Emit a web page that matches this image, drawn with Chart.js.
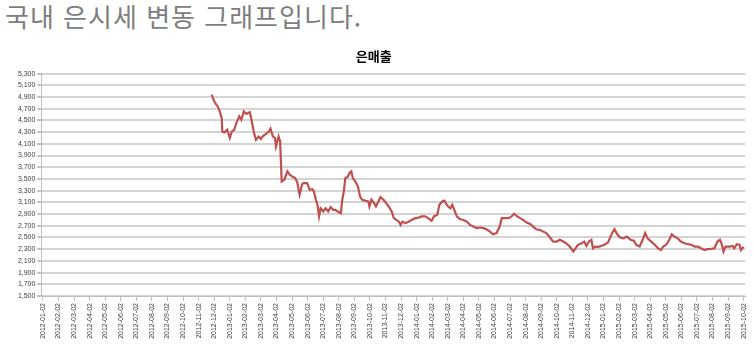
<!DOCTYPE html>
<html lang="ko">
<head>
<meta charset="utf-8">
<script src="https://cdn.jsdelivr.net/npm/chart.js@4.4.0/dist/chart.umd.min.js"></script>
<style>
html, body { margin: 0; padding: 0; background: #fff; width: 754px; height: 353px; overflow: hidden; }
h2 { position: absolute; left: 5px; top: 3px; margin: 0; font: 400 26px/1 "Noto Sans CJK KR", sans-serif; letter-spacing: 1px; color: #7d7d7d; white-space: nowrap; }
#wrap { position: absolute; left: 0; top: 38px; width: 754px; height: 315px; }
</style>
</head>
<body>
<h2>국내 은시세 변동 그래프입니다.</h2>
<div id="wrap"><canvas id="myChart" width="754" height="315"></canvas></div>
<script>
// 축 눈금 (매월 2일)
const tickLabels = [
    '2012-01-02', '2012-02-02', '2012-03-02', '2012-04-02', '2012-05-02', '2012-06-02',
    '2012-07-02', '2012-08-02', '2012-09-02', '2012-10-02', '2012-11-02', '2012-12-02',
    '2013-01-02', '2013-02-02', '2013-03-02', '2013-04-02', '2013-05-02', '2013-06-02',
    '2013-07-02', '2013-08-02', '2013-09-02', '2013-10-02', '2013-11-02', '2013-12-02',
    '2014-01-02', '2014-02-02', '2014-03-02', '2014-04-02', '2014-05-02', '2014-06-02',
    '2014-07-02', '2014-08-02', '2014-09-02', '2014-10-02', '2014-11-02', '2014-12-02',
    '2015-01-02', '2015-02-02', '2015-03-02', '2015-04-02', '2015-05-02', '2015-06-02',
    '2015-07-02', '2015-08-02', '2015-09-02', '2015-10-02'
];

// 날짜 / 은 가격
const dates = [
    '2012-11-27', '2012-12-02', '2012-12-06', '2012-12-09', '2012-12-13', '2012-12-17', '2012-12-18', '2012-12-22', '2012-12-28',
    '2013-01-02', '2013-01-06', '2013-01-11', '2013-01-15', '2013-01-21', '2013-01-25', '2013-01-30',
    '2013-02-04', '2013-02-10', '2013-02-13', '2013-02-17', '2013-02-21', '2013-02-26',
    '2013-03-02', '2013-03-05', '2013-03-12', '2013-03-18', '2013-03-21', '2013-03-26', '2013-03-30',
    '2013-04-01', '2013-04-06', '2013-04-09', '2013-04-12', '2013-04-17', '2013-04-23', '2013-04-28',
    '2013-05-03', '2013-05-08', '2013-05-12', '2013-05-17', '2013-05-22', '2013-05-25',
    '2013-06-01', '2013-06-06', '2013-06-11', '2013-06-14', '2013-06-18', '2013-06-21', '2013-06-24', '2013-06-27',
    '2013-07-02', '2013-07-07', '2013-07-12', '2013-07-17', '2013-07-22', '2013-07-26', '2013-07-31',
    '2013-08-06', '2013-08-09', '2013-08-12', '2013-08-15', '2013-08-20', '2013-08-24', '2013-08-27', '2013-08-30',
    '2013-09-04', '2013-09-09', '2013-09-13', '2013-09-17', '2013-09-24', '2013-09-29',
    '2013-10-01', '2013-10-05', '2013-10-10', '2013-10-14', '2013-10-19', '2013-10-23', '2013-10-29',
    '2013-11-03', '2013-11-08', '2013-11-14', '2013-11-18', '2013-11-23', '2013-11-28',
    '2013-12-01', '2013-12-05', '2013-12-11', '2013-12-17', '2013-12-23', '2013-12-30',
    '2014-01-06', '2014-01-12', '2014-01-19', '2014-01-25',
    '2014-02-01', '2014-02-05', '2014-02-11', '2014-02-15', '2014-02-20', '2014-02-24', '2014-02-28',
    '2014-03-03', '2014-03-07', '2014-03-11', '2014-03-15', '2014-03-20', '2014-03-26',
    '2014-04-02', '2014-04-09', '2014-04-15', '2014-04-22', '2014-04-28',
    '2014-05-04', '2014-05-11', '2014-05-17', '2014-05-24', '2014-05-30',
    '2014-06-06', '2014-06-12', '2014-06-16', '2014-06-23', '2014-06-29',
    '2014-07-05', '2014-07-10', '2014-07-15', '2014-07-22', '2014-07-28',
    '2014-08-04', '2014-08-11', '2014-08-17', '2014-08-23', '2014-08-30',
    '2014-09-06', '2014-09-12', '2014-09-19', '2014-09-25',
    '2014-10-02', '2014-10-08', '2014-10-15', '2014-10-21', '2014-10-28',
    '2014-11-04', '2014-11-07', '2014-11-13', '2014-11-20', '2014-11-25', '2014-11-29',
    '2014-12-04', '2014-12-09', '2014-12-12', '2014-12-17', '2014-12-22', '2014-12-28',
    '2015-01-04', '2015-01-11', '2015-01-16', '2015-01-21', '2015-01-24', '2015-01-28',
    '2015-02-03', '2015-02-10', '2015-02-16', '2015-02-23',
    '2015-03-01', '2015-03-05', '2015-03-12', '2015-03-18', '2015-03-23', '2015-03-28',
    '2015-04-04', '2015-04-11', '2015-04-17', '2015-04-23', '2015-04-27',
    '2015-05-03', '2015-05-09', '2015-05-14', '2015-05-19', '2015-05-26',
    '2015-06-01', '2015-06-08', '2015-06-15', '2015-06-21', '2015-06-28',
    '2015-07-04', '2015-07-10', '2015-07-17', '2015-07-23', '2015-07-30',
    '2015-08-06', '2015-08-12', '2015-08-17', '2015-08-21', '2015-08-24', '2015-08-28',
    '2015-09-05', '2015-09-11', '2015-09-14', '2015-09-19', '2015-09-24', '2015-09-27',
    '2015-10-02'
];

const prices = [
    4940, 4826, 4770, 4740, 4655, 4540, 4310, 4295, 4340,
    4200, 4310, 4340, 4455, 4570, 4510, 4655,
    4610, 4640, 4510, 4310, 4170, 4225,
    4185, 4225, 4270, 4310, 4360, 4225, 4200,
    4055, 4225, 4140, 3455, 3485, 3630, 3570,
    3540, 3515, 3455, 3230, 3410, 3430,
    3430, 3315, 3325, 3285, 3145, 3060, 2860, 3000,
    2945, 3000, 2945, 3020, 2970, 2970, 2945,
    2915, 3145, 3285, 3515, 3540, 3610, 3630, 3515,
    3455, 3370, 3200, 3145, 3125, 3115,
    3030, 3145, 3090, 3030, 3115, 3190, 3145,
    3090, 3030, 2945, 2830, 2800, 2770,
    2715, 2770, 2745, 2770, 2800, 2830,
    2840, 2860, 2860, 2830,
    2785, 2860, 2885, 3060, 3115, 3130, 3060,
    3030, 3000, 3060, 2970, 2860, 2815,
    2800, 2770, 2715, 2685, 2660,
    2670, 2660, 2640, 2600, 2555,
    2575, 2685, 2830, 2830, 2830,
    2860, 2905, 2870, 2830, 2800,
    2755, 2730, 2685, 2640, 2630,
    2600, 2575, 2500, 2430,
    2430, 2460, 2430, 2400, 2345,
    2260, 2300, 2375, 2400, 2430, 2355,
    2430, 2460, 2315, 2345, 2335, 2355,
    2375, 2415, 2515, 2600, 2640, 2575,
    2505, 2485, 2515, 2460,
    2440, 2375, 2345, 2460, 2575, 2485,
    2430, 2375, 2315, 2285, 2345,
    2375, 2460, 2555, 2515, 2485,
    2430, 2400, 2385, 2375, 2345,
    2345, 2315, 2285, 2300, 2305,
    2315, 2430, 2460, 2375, 2260, 2345,
    2345, 2355, 2315, 2385, 2375, 2285,
    2340
];

// 날짜 -> 2012-01-02 기준 개월 위치
function monthPos(s) {
    const [y, m, d] = s.split('-').map(Number);
    const dim = new Date(y, m, 0).getDate();
    return (y - 2012) * 12 + (m - 1) + (d - 2) / dim;
}

const points = dates.map((d, i) => ({ x: monthPos(d), y: prices[i] }));

const ctx = document.getElementById('myChart').getContext('2d');

const myChart = new Chart(ctx, {
    type: 'line',
    data: {
        datasets: [{
            label: '은매출',
            data: points,
            borderColor: '#C0504D',
            backgroundColor: '#C0504D',
            borderWidth: 2.2,
            pointRadius: 0,
            tension: 0
        }]
    },
    options: {
        responsive: false,
        animation: false,
        layout: { padding: { left: 0, right: 6.4, top: 0, bottom: 0 } },
        plugins: {
            legend: { display: false },
            tooltip: { enabled: false },
            title: {
                display: true,
                text: '은매출',
                color: '#000',
                font: { family: 'Noto Sans CJK KR', size: 13, weight: 'bold' },
                padding: { top: 10, bottom: 10 }
            }
        },
        scales: {
            x: {
                type: 'linear',
                min: -0.1,
                max: 45.1,
                afterFit: (scale) => { scale.height = 57; },
                afterBuildTicks: (scale) => {
                    scale.ticks = tickLabels.map((_, i) => ({ value: i }));
                },
                grid: { drawOnChartArea: false, tickLength: 5, tickColor: '#bfbfbf' },
                border: { color: '#bfbfbf' },
                ticks: {
                    autoSkip: false,
                    minRotation: 90,
                    maxRotation: 90,
                    padding: 2,
                    color: '#404040',
                    font: { family: 'Liberation Sans', size: 7 },
                    callback: (v) => tickLabels[v]
                }
            },
            y: {
                min: 1500,
                max: 5300,
                afterFit: (scale) => { scale.width = 41.4; },
                grid: { color: '#d4d4d4', lineWidth: 2, tickLength: 4, tickColor: '#bfbfbf' },
                border: { color: '#bfbfbf' },
                ticks: {
                    stepSize: 200,
                    padding: 2,
                    color: '#404040',
                    font: { family: 'Liberation Sans', size: 7 },
                    callback: (v) => v.toLocaleString('en-US')
                }
            }
        }
    }
});
</script>
</body>
</html>
